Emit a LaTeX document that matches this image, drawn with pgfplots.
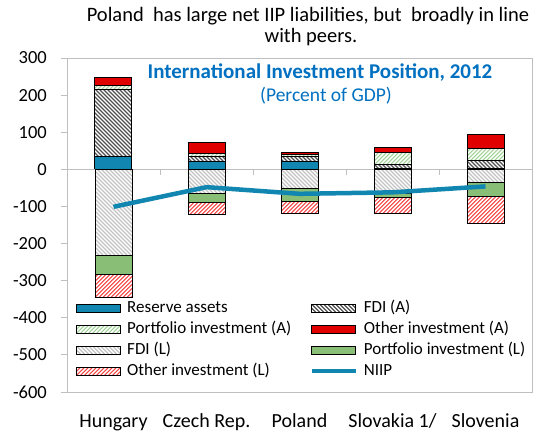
\documentclass[border=0pt]{standalone}
\usepackage{fontspec}
\setmainfont{Carlito}
\usepackage{pgfplots}
\pgfplotsset{compat=1.18}

\definecolor{resblue}{RGB}{16,134,176}
\definecolor{othred}{RGB}{224,0,0}
\definecolor{pfgreen}{RGB}{136,190,118}
\definecolor{hatchgreen}{RGB}{160,210,150}
\definecolor{hatchred}{RGB}{245,70,70}
\definecolor{hatchgray}{RGB}{195,195,195}
\definecolor{hatchdark}{RGB}{80,80,80}
\definecolor{axgray}{RGB}{191,191,191}
\definecolor{titleblue}{RGB}{0,112,192}

\pgfplotsset{
  base/.style={scale only axis, width=465bp, height=334bp,
    xmin=-0.5, xmax=4.5, ymin=-600, ymax=300, clip=false},
  barframe/.style={draw=black, line width=1bp},
  resS/.style={barframe, fill=resblue},
  oiaS/.style={barframe, fill=othred},
  pflS/.style={barframe, fill=pfgreen},
  % hatching "///"
  hatchNE/.style={barframe, fill=white, path picture={%
    \begin{scope}[reset cm, shift={(path picture bounding box.south west)}]
    \foreach \k in {-40,...,110} {\draw[path picture={}, draw=#1, fill=none, line width=1.2bp] (\k*4bp,0bp) -- ++(160bp,160bp);}
    \end{scope}}},
  % hatching "\\\"
  hatchNW/.style={barframe, fill=white, path picture={%
    \begin{scope}[reset cm, shift={(path picture bounding box.south west)}]
    \foreach \k in {0,...,150} {\draw[path picture={}, draw=#1, fill=none, line width=1.2bp] (\k*4bp,0bp) -- ++(-160bp,160bp);}
    \end{scope}}},
  fdiaS/.style={hatchNW=hatchdark},
  pfaS/.style={hatchNE=hatchgreen},
  fdilS/.style={hatchNW=hatchgray},
  oilS/.style={hatchNE=hatchred},
  niipS/.style={draw=resblue, line width=4.5bp, mark=none},
  barleg/.style={legend image code/.code={\draw[##1] (0bp,-4bp) rectangle (44bp,4bp); \path (48bp,0bp);}},
  lineleg/.style={legend image code/.code={\draw[##1] (0bp,0bp) -- (44bp,0bp); \path (48bp,0bp);}},
}

\begin{document}
\begin{tikzpicture}
% Axis A: frame, ticks, positive (assets) stack
\begin{axis}[base, ybar stacked, bar width=37bp,
  axis line style={draw=axgray, line width=0.8bp},
  ytick={-600,-500,...,300}, ytick pos=left, tick align=outside,
  major tick length=6bp,
  ytick style={draw=axgray, line width=0.8bp},
  xtick={0,1,2,3,4}, xtick style={draw=none},
  xticklabels={Hungary,Czech Rep.,Poland,Slovakia 1/,Slovenia},
  xticklabel style={anchor=base, inner sep=0pt, yshift=-29bp, font=\fontsize{20bp}{24bp}\selectfont},
  yticklabel style={anchor=east, inner sep=0pt, xshift=-14bp, font=\fontsize{18.5bp}{22bp}\selectfont},
  /pgf/number format/assume math mode=true,
]
\draw[axgray, line width=0.8bp] (axis cs:-0.5,0) -- (axis cs:4.5,0);
\draw[axgray, line width=0.8bp] (axis cs:0.5,0) -- ++(0pt,-6bp);
\draw[axgray, line width=0.8bp] (axis cs:1.5,0) -- ++(0pt,-6bp);
\draw[axgray, line width=0.8bp] (axis cs:2.5,0) -- ++(0pt,-6bp);
\draw[axgray, line width=0.8bp] (axis cs:3.5,0) -- ++(0pt,-6bp);
% Reserve assets
\addplot[resS] coordinates {(0,34) (1,22) (2,21) (3,1) (4,2)};
% FDI (A)
\addplot[fdiaS] coordinates {(0,181) (1,12) (2,14) (3,13) (4,21)};
% Portfolio investment (A)
\addplot[pfaS] coordinates {(0,10) (1,8) (2,4) (3,32) (4,32)};
% Other investment (A)
\addplot[oiaS] coordinates {(0,22) (1,31) (2,6) (3,13) (4,40)};
\end{axis}

% Axis B: negative (liabilities) stack
\begin{axis}[base, hide axis, ybar stacked, bar width=37bp]
% FDI (L)
\addplot[fdilS] coordinates {(0,-231) (1,-65) (2,-52) (3,-66) (4,-36)};
% Portfolio investment (L)
\addplot[pflS] coordinates {(0,-53) (1,-24) (2,-34) (3,-11) (4,-37)};
% Other investment (L)
\addplot[oilS] coordinates {(0,-61) (1,-32) (2,-33) (3,-43) (4,-73)};
\end{axis}

% Axis C: NIIP line and legend
\begin{axis}[base, hide axis,
  legend columns=2, legend cell align=left,
  legend style={at={(0.0194,0.283)}, anchor=north west, draw=none, fill=none,
    inner sep=0pt, font=\fontsize{17bp}{20bp}\selectfont,
    nodes={inner sep=2bp, text height=12.5bp, text depth=4.5bp},
    /tikz/every even column/.append style={column sep=16bp}},
]
\addlegendimage{barleg, resS}\addlegendentry{Reserve assets}
\addlegendimage{barleg, fdiaS}\addlegendentry{FDI (A)}
\addlegendimage{barleg, pfaS}\addlegendentry{Portfolio investment (A)}
\addlegendimage{barleg, oiaS}\addlegendentry{Other investment (A)}
\addlegendimage{barleg, fdilS}\addlegendentry{FDI (L)}
\addlegendimage{barleg, pflS}\addlegendentry{Portfolio investment (L)}
\addlegendimage{barleg, oilS}\addlegendentry{Other investment (L)}
\addplot[niipS, lineleg] coordinates {(0,-101) (1,-48) (2,-66) (3,-62) (4,-46)};
\addlegendentry{NIIP}
\end{axis}

% Titles (positions in bp relative to axis south-west corner)
\node[anchor=base, inner sep=0pt, font=\fontsize{20.5bp}{24bp}\selectfont] at (241bp,370bp)
  {Poland\ \ has large net IIP liabilities, but\ \ broadly in line};
\node[anchor=base, inner sep=0pt, font=\fontsize{20.5bp}{24bp}\selectfont] at (244bp,349bp)
  {with peers.};
\node[anchor=base, inner sep=0pt, text=titleblue, font=\bfseries\fontsize{21bp}{24bp}\selectfont] at (253bp,313bp)
  {International Investment Position, 2012};
\node[anchor=base, inner sep=0pt, text=titleblue, font=\fontsize{19.5bp}{22bp}\selectfont] at (259bp,290bp)
  {(Percent of GDP)};

\pgfresetboundingbox
\path (-67bp,-43bp) rectangle (469bp,392bp);
\end{tikzpicture}
\end{document}
